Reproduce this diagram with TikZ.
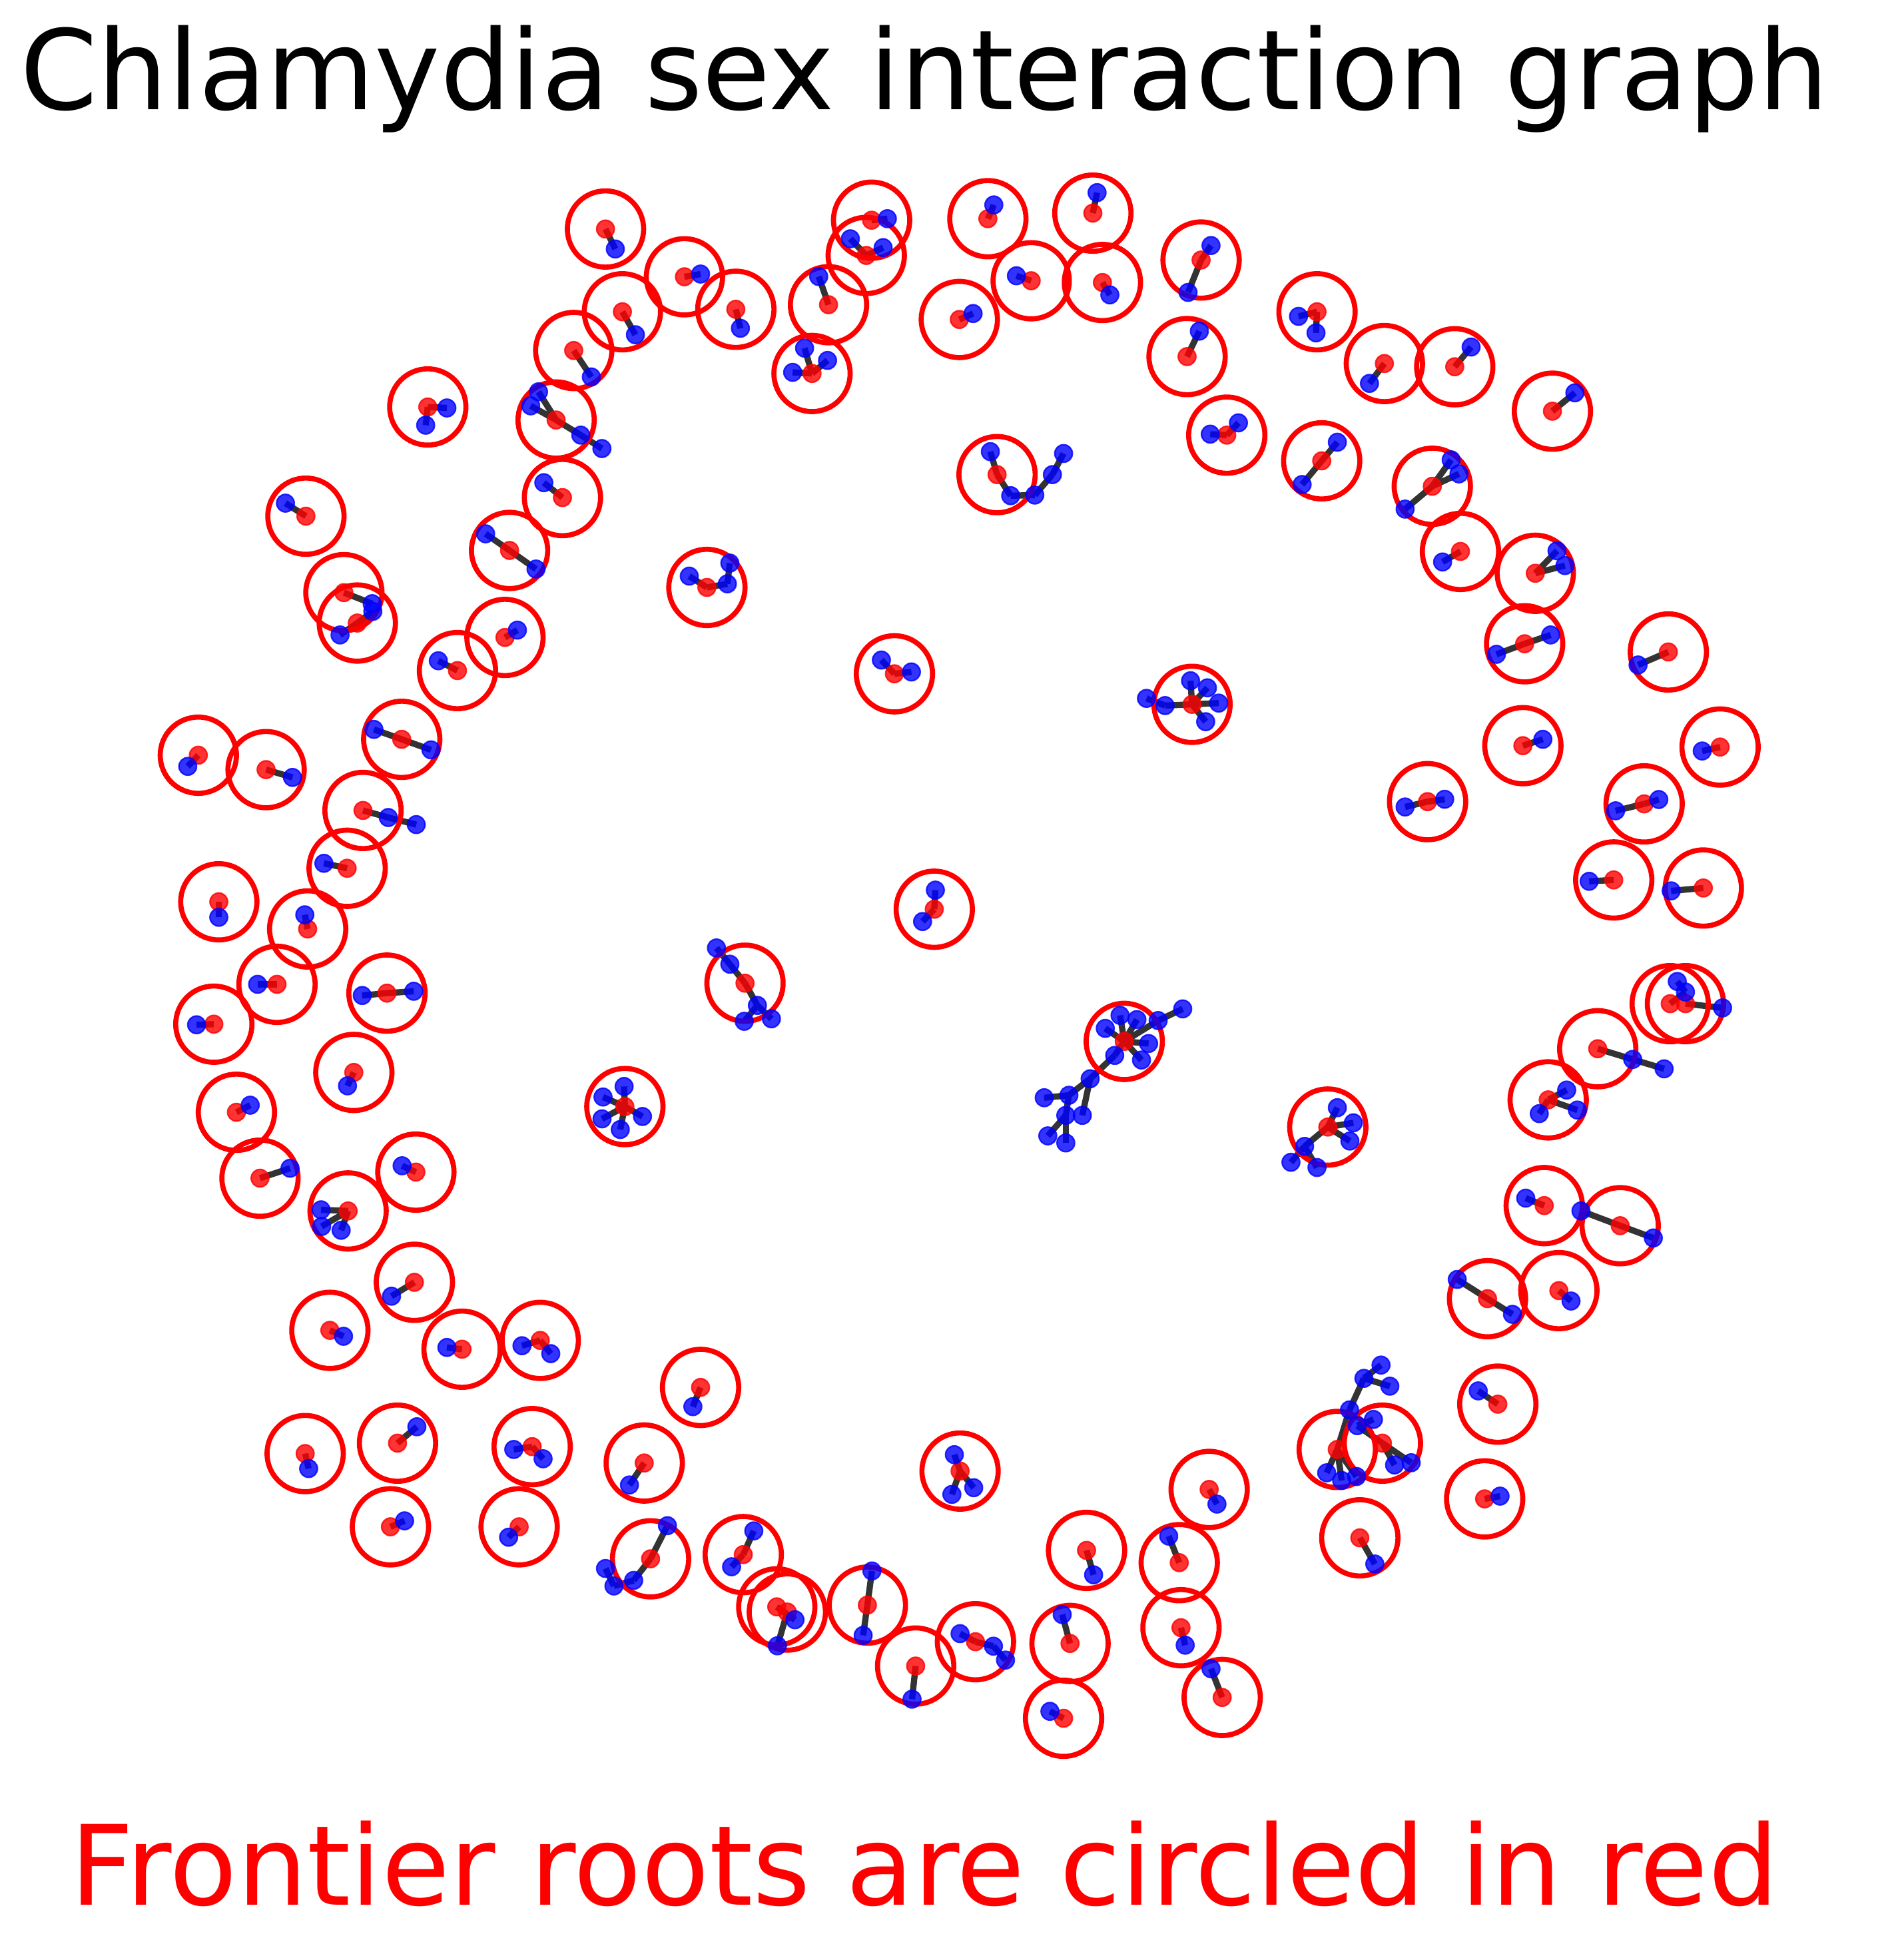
\documentclass[tikz,border=0pt]{standalone}
\usepackage{fontspec}
\setmainfont{DejaVu Sans}
\pgfdeclarelayer{bglayer}
\pgfdeclarelayer{edgelayer}
\pgfdeclarelayer{ringlayer}
\pgfsetlayers{bglayer,edgelayer,ringlayer,main}
\tikzset{
  rn/.style={circle,inner sep=0pt,minimum size=0.142cm,line width=0.012cm,fill=red,draw=red,fill opacity=0.8,draw opacity=0.8},
  bn/.style={circle,inner sep=0pt,minimum size=0.142cm,line width=0.012cm,fill=blue,draw=blue,fill opacity=0.8,draw opacity=0.8},
  ring/.style={draw=red,line width=0.041cm},
  edgeln/.style={draw=black!80,line width=0.05cm},
}
\begin{document}
\begin{tikzpicture}[x=0.01cm,y=-0.01cm]
\begin{pgfonlayer}{bglayer}
\fill[white] (0,0) rectangle (1534,1568);
\end{pgfonlayer}
\useasboundingbox (0,0) rectangle (1534,1568);
\node[font=\fontsize{25.4}{30}\selectfont,anchor=base,inner sep=0pt] (title) at (745,88) {Chlamydia sex interaction graph};
\node[font=\fontsize{25.4}{30}\selectfont,anchor=base,inner sep=0pt,text=red] (foot) at (745,1535) {Frontier roots are circled in red};
% nodes
\node[rn] (r1) at (487.9,184.5) {}; \node[bn] (b1a) at (495.8,200.6) {};
\node[rn] (r2) at (551.5,223.0) {}; \node[bn] (b2a) at (564.5,220.8) {};
\node[rn] (r3) at (592.9,249.2) {}; \node[bn] (b3a) at (596.6,264.5) {};
\node[rn] (r4) at (501.5,251.2) {}; \node[bn] (b4a) at (512.0,269.7) {};
\node[rn] (r5) at (462.3,282.4) {}; \node[bn] (b5a) at (476.5,303.7) {};
\node[rn] (r6) at (448.1,338.4) {}; \node[bn] (b6a) at (433.9,315.7) {}; \node[bn] (b6b) at (427.6,327.0) {}; \node[bn] (b6c) at (468.0,350.6) {}; \node[bn] (b6d) at (485.0,361.4) {};
\node[rn] (r7) at (453.2,400.9) {}; \node[bn] (b7a) at (438.2,388.9) {};
\node[rn] (r8) at (410.6,443.5) {}; \node[bn] (b8a) at (391.3,430.1) {}; \node[bn] (b8b) at (431.9,458.5) {};
\node[rn] (r9) at (344.7,327.9) {}; \node[bn] (b9a) at (360.1,328.7) {}; \node[bn] (b9b) at (343.0,342.6) {};
\node[rn] (r10) at (246.5,415.9) {}; \node[bn] (b10a) at (230.0,405.4) {};
\node[rn] (r11) at (277.1,477.5) {}; \node[bn] (b11a) at (299.9,486.4) {};
\node[rn] (r11x) at (287.9,502.0) {}; \node[bn] (b11b) at (300.4,492.6) {}; \node[bn] (b11c) at (274.0,511.6) {};
\node[rn] (r12) at (406.9,513.6) {}; \node[bn] (b12a) at (416.9,507.7) {};
\node[rn] (r13) at (368.6,540.3) {}; \node[bn] (b13a) at (353.2,532.4) {};
\node[rn] (r14) at (323.7,595.7) {}; \node[bn] (b14a) at (301.3,587.7) {}; \node[bn] (b14b) at (347.3,604.2) {};
\node[rn] (r15) at (292.5,653.0) {}; \node[bn] (b15a) at (312.9,658.7) {}; \node[bn] (b15b) at (335.4,664.4) {};
\node[rn] (r16) at (279.7,699.6) {}; \node[bn] (b16a) at (261.0,695.6) {};
\node[rn] (r17) at (159.8,608.5) {}; \node[bn] (b17a) at (151.3,617.5) {};
\node[rn] (r18) at (214.4,620.1) {}; \node[bn] (b18a) at (235.7,626.4) {};
\node[rn] (r19) at (176.3,726.6) {}; \node[bn] (b19a) at (176.3,739.1) {};
\node[rn] (r20) at (247.9,748.5) {}; \node[bn] (b20a) at (245.6,737.1) {};
\node[rn] (r21) at (223.2,793.1) {}; \node[bn] (b21a) at (207.6,793.1) {};
\node[rn] (r22) at (311.8,800.2) {}; \node[bn] (b22a) at (291.9,802.1) {}; \node[bn] (b22b) at (333.4,798.7) {};
\node[rn] (r23) at (172.3,825.2) {}; \node[bn] (b23a) at (158.4,825.7) {};
\node[rn] (r24) at (285.1,864.1) {}; \node[bn] (b24a) at (280.0,874.9) {};
\node[rn] (r25) at (190.5,896.2) {}; \node[bn] (b25a) at (201.6,890.5) {};
\node[rn] (r26) at (209.5,949.3) {}; \node[bn] (b26a) at (233.7,941.3) {};
\node[rn] (r27) at (335.1,944.4) {}; \node[bn] (b27a) at (324.0,939.3) {};
\node[rn] (r28) at (280.5,975.7) {}; \node[bn] (b28a) at (258.7,974.8) {}; \node[bn] (b28b) at (259.2,988.2) {}; \node[bn] (b28c) at (274.9,991.3) {};
\node[rn] (r29) at (333.9,1033.2) {}; \node[bn] (b29a) at (315.5,1044.4) {};
\node[rn] (r30) at (265.8,1071.9) {}; \node[bn] (b30a) at (276.8,1076.7) {};
\node[rn] (r31) at (372.3,1087.1) {}; \node[bn] (b31a) at (360.1,1085.7) {};
\node[rn] (r32) at (435.3,1080.0) {}; \node[bn] (b32a) at (420.6,1084.3) {}; \node[bn] (b32b) at (443.8,1090.7) {};
\node[rn] (r33) at (245.9,1171.2) {}; \node[bn] (b33a) at (248.7,1183.3) {};
\node[rn] (r34) at (320.3,1162.8) {}; \node[bn] (b34a) at (335.9,1149.6) {};
\node[rn] (r35) at (428.8,1165.6) {}; \node[bn] (b35a) at (414.0,1167.9) {}; \node[bn] (b35b) at (437.6,1175.4) {};
\node[rn] (r36) at (314.6,1230.2) {}; \node[bn] (b36a) at (326.0,1225.4) {};
\node[rn] (r37) at (418.3,1230.2) {}; \node[bn] (b37a) at (409.8,1238.6) {};
\node[rn] (r38) at (519.1,1178.8) {}; \node[bn] (b38a) at (507.2,1196.5) {};
\node[rn] (r39) at (564.5,1117.9) {}; \node[bn] (b39a) at (558.3,1133.4) {};
\node[rn] (r40) at (524.2,1256.0) {}; \node[bn] (b40a) at (537.8,1229.3) {}; \node[bn] (b40b) at (510.6,1273.4) {}; \node[bn] (b40c) at (494.7,1277.9) {}; \node[bn] (b40d) at (487.9,1263.8) {};
\node[rn] (r41) at (598.9,1252.6) {}; \node[bn] (b41a) at (607.4,1233.5) {}; \node[bn] (b41b) at (589.5,1262.4) {};
\node[rn] (r42) at (625.9,1294.7) {}; \node[rn] (r42x) at (634.4,1298.9) {}; \node[bn] (b42a) at (640.6,1305.1) {}; \node[bn] (b42b) at (626.4,1326.1) {};
\node[rn] (r43) at (698.9,1293.3) {}; \node[bn] (b43a) at (702.6,1265.8) {}; \node[bn] (b43b) at (695.5,1317.7) {};
\node[rn] (r44) at (737.8,1342.4) {}; \node[bn] (b44a) at (734.9,1369.1) {};
\node[rn] (r45) at (786.0,1322.8) {}; \node[bn] (b45a) at (773.6,1316.3) {}; \node[bn] (b45b) at (800.5,1326.4) {}; \node[bn] (b45c) at (810.2,1337.6) {};
\node[rn] (r46) at (773.6,1185.3) {}; \node[bn] (b46a) at (769.0,1172.1) {}; \node[bn] (b46b) at (767.0,1204.1) {}; \node[bn] (b46c) at (784.6,1198.7) {};
\node[rn] (r47) at (862.2,1324.2) {}; \node[bn] (b47a) at (855.9,1300.9) {};
\node[rn] (r48) at (857.0,1384.5) {}; \node[bn] (b48a) at (846.0,1378.9) {};
\node[rn] (r49) at (875.5,1249.2) {}; \node[bn] (b49a) at (881.2,1268.9) {};
\node[rn] (r50) at (950.2,1259.1) {}; \node[bn] (b50a) at (941.7,1237.7) {};
\node[rn] (r51) at (951.6,1311.5) {}; \node[bn] (b51a) at (955.0,1325.6) {};
\node[rn] (r52) at (984.8,1367.7) {}; \node[bn] (b52a) at (975.8,1344.6) {};
\node[rn] (r53) at (974.3,1200.1) {}; \node[bn] (b53a) at (980.6,1211.9) {};
\node[rn] (r54) at (1095.7,1239.1) {}; \node[bn] (b54a) at (1107.8,1260.2) {};
\node[rn] (r55) at (1077.5,1167.9) {}; \node[rn] (r55x) at (1113.9,1162.8) {};
\node[bn] (b55a) at (1112.8,1099.9) {}; \node[bn] (b55b) at (1099.0,1110.6) {}; \node[bn] (b55c) at (1119.9,1116.9) {}; \node[bn] (b55d) at (1087.4,1136.0) {};
\node[bn] (b55e) at (1106.7,1143.7) {}; \node[bn] (b55f) at (1093.6,1148.7) {};
\node[bn] (b55g) at (1069.0,1186.7) {}; \node[bn] (b55h) at (1081.1,1192.9) {}; \node[bn] (b55i) at (1093.1,1189.7) {};
\node[bn] (b55j) at (1123.7,1180.4) {}; \node[bn] (b55k) at (1137.1,1178.6) {};
\node[rn] (r56) at (1196.3,1207.7) {}; \node[bn] (b56a) at (1208.7,1205.5) {};
\node[rn] (r57) at (1206.9,1131.4) {}; \node[bn] (b57a) at (1191.1,1120.7) {};
\node[rn] (r58) at (1198.6,1046.4) {}; \node[bn] (b58a) at (1174.2,1030.9) {}; \node[bn] (b58b) at (1218.7,1059.0) {};
\node[rn] (r59) at (1256.1,1039.9) {}; \node[bn] (b59a) at (1265.9,1048.3) {};
\node[rn] (r60) at (1305.5,987.6) {}; \node[bn] (b60a) at (1273.9,975.7) {}; \node[bn] (b60b) at (1332.2,997.5) {};
\node[rn] (r61) at (1244.3,971.4) {}; \node[bn] (b61a) at (1229.4,965.4) {};
\node[rn] (r62) at (1247.5,886.2) {}; \node[bn] (b62a) at (1262.4,878.3) {}; \node[bn] (b62b) at (1271.0,894.4) {}; \node[bn] (b62c) at (1240.3,897.3) {};
\node[rn] (r63) at (1287.4,845.0) {}; \node[bn] (b63a) at (1315.6,853.6) {}; \node[bn] (b63b) at (1340.9,861.2) {};
\node[rn] (r64) at (1345.8,808.7) {}; \node[rn] (r64x) at (1358.1,808.7) {}; \node[bn] (b64a) at (1351.5,790.8) {}; \node[bn] (b64b) at (1358.1,799.3) {}; \node[bn] (b64c) at (1388.0,812.1) {};
\node[rn] (r65) at (1372.5,715.5) {}; \node[bn] (b65a) at (1346.6,717.8) {};
\node[rn] (r66) at (1300.3,709.0) {}; \node[bn] (b66a) at (1280.5,710.1) {};
\node[rn] (r67) at (1324.8,647.7) {}; \node[bn] (b67a) at (1301.8,653.3) {}; \node[bn] (b67b) at (1336.6,644.2) {};
\node[rn] (r68) at (1386.0,601.9) {}; \node[bn] (b68a) at (1371.6,605.1) {};
\node[rn] (r69) at (1344.3,525.3) {}; \node[bn] (b69a) at (1319.9,535.8) {};
\node[rn] (r70) at (1227.1,600.8) {}; \node[bn] (b70a) at (1243.2,595.7) {};
\node[rn] (r71) at (1150.3,645.9) {}; \node[bn] (b71a) at (1132.2,650.2) {}; \node[bn] (b71b) at (1164.1,644.0) {};
\node[rn] (r72) at (1228.5,518.7) {}; \node[bn] (b72a) at (1205.8,527.2) {}; \node[bn] (b72b) at (1249.5,511.6) {};
\node[rn] (r73) at (1237.1,461.9) {}; \node[bn] (b73a) at (1254.6,443.8) {}; \node[bn] (b73b) at (1261.0,455.7) {};
\node[rn] (r74) at (1176.8,444.3) {}; \node[bn] (b74a) at (1162.4,452.8) {};
\node[rn] (r75) at (1154.1,391.8) {}; \node[bn] (b75a) at (1169.3,370.5) {}; \node[bn] (b75b) at (1175.6,381.8) {}; \node[bn] (b75c) at (1132.2,410.2) {};
\node[rn] (r76) at (1250.9,331.3) {}; \node[bn] (b76a) at (1269.0,316.5) {};
\node[rn] (r77) at (1172.2,295.5) {}; \node[bn] (b77a) at (1185.4,279.6) {};
\node[rn] (r78) at (1115.5,292.9) {}; \node[bn] (b78a) at (1103.5,308.9) {};
\node[rn] (r79) at (1061.2,251.2) {}; \node[bn] (b79a) at (1046.3,254.9) {}; \node[bn] (b79b) at (1060.4,268.2) {};
\node[rn] (r80) at (1065.0,371.3) {}; \node[bn] (b80a) at (1077.6,356.3) {}; \node[bn] (b80b) at (1049.2,390.4) {};
\node[rn] (r81) at (988.5,350.6) {}; \node[bn] (b81a) at (975.2,349.8) {}; \node[bn] (b81b) at (997.9,340.7) {};
\node[rn] (r82) at (967.8,209.5) {}; \node[bn] (b82a) at (975.8,197.8) {}; \node[bn] (b82b) at (957.3,235.6) {};
\node[rn] (r83) at (956.5,287.3) {}; \node[bn] (b83a) at (966.4,266.8) {};
\node[rn] (r84) at (880.6,171.7) {}; \node[bn] (b84a) at (884.0,155.2) {};
\node[rn] (r85) at (888.3,227.6) {}; \node[bn] (b85a) at (894.3,237.6) {};
\node[rn] (r86) at (830.9,226.2) {}; \node[bn] (b86a) at (819.0,222.2) {};
\node[rn] (r87) at (796.0,176.2) {}; \node[bn] (b87a) at (800.8,165.1) {};
\node[rn] (r88) at (773.0,257.4) {}; \node[bn] (b88a) at (784.1,252.6) {};
\node[rn] (r89) at (702.3,177.4) {}; \node[bn] (b89a) at (715.0,176.2) {};
\node[rn] (r89x) at (698.0,205.8) {}; \node[bn] (b89b) at (685.2,192.4) {}; \node[bn] (b89c) at (711.6,199.5) {};
\node[rn] (r90) at (667.6,245.5) {}; \node[bn] (b90a) at (659.7,222.8) {};
\node[rn] (r91) at (654.3,300.9) {}; \node[bn] (b91a) at (648.3,280.5) {}; \node[bn] (b91b) at (638.7,300.0) {}; \node[bn] (b91c) at (666.8,290.4) {};
\node[rn] (r92) at (803.4,382.4) {}; \node[bn] (b92a) at (798.0,363.9) {}; \node[bn] (b92b) at (814.4,399.4) {}; \node[bn] (b92c) at (833.8,398.9) {}; \node[bn] (b92d) at (848.0,382.4) {}; \node[bn] (b92e) at (857.0,365.4) {};
\node[rn] (r93) at (569.6,473.3) {}; \node[bn] (b93a) at (555.4,464.2) {}; \node[bn] (b93b) at (586.1,470.4) {}; \node[bn] (b93c) at (588.1,453.7) {};
\node[rn] (r94) at (720.7,542.9) {}; \node[bn] (b94a) at (710.2,531.8) {}; \node[bn] (b94b) at (734.4,541.4) {};
\node[rn] (r95) at (960.5,567.5) {}; \node[bn] (b95a) at (923.8,562.7) {}; \node[bn] (b95b) at (938.8,568.5) {}; \node[bn] (b95c) at (959.3,548.5) {}; \node[bn] (b95d) at (972.9,554.2) {}; \node[bn] (b95e) at (982.0,566.5) {}; \node[bn] (b95f) at (971.5,581.5) {};
\node[rn] (r96) at (752.8,732.6) {}; \node[bn] (b96a) at (753.7,717.2) {}; \node[bn] (b96b) at (743.4,742.5) {};
\node[rn] (r97) at (600.3,792.2) {}; \node[bn] (b97a) at (577.3,763.8) {}; \node[bn] (b97b) at (588.1,776.9) {}; \node[bn] (b97c) at (610.3,810.1) {}; \node[bn] (b97d) at (599.7,822.9) {}; \node[bn] (b97e) at (621.6,820.9) {};
\node[rn] (r98) at (503.5,891.6) {}; \node[bn] (b98a) at (502.9,875.4) {}; \node[bn] (b98b) at (485.9,883.9) {}; \node[bn] (b98c) at (485.1,901.5) {}; \node[bn] (b98d) at (499.8,910.1) {}; \node[bn] (b98e) at (517.7,899.6) {};
\node[rn] (r99) at (905.9,839.1) {};
\node[bn] (b99a) at (890.6,828.6) {}; \node[bn] (b99b) at (902.5,818.1) {}; \node[bn] (b99c) at (916.1,821.5) {}; \node[bn] (b99d) at (933.2,822.3) {}; \node[bn] (b99e) at (953.0,812.9) {};
\node[bn] (b99f) at (925.5,840.8) {}; \node[bn] (b99g) at (919.8,854.1) {}; \node[bn] (b99h) at (898.2,850.4) {}; \node[bn] (b99i) at (878.4,869.2) {}; \node[bn] (b99j) at (861.3,882.5) {};
\node[bn] (b99k) at (841.4,884.5) {}; \node[bn] (b99l) at (872.1,898.7) {}; \node[bn] (b99m) at (858.8,898.7) {}; \node[bn] (b99n) at (844.3,915.2) {}; \node[bn] (b99o) at (858.8,920.9) {};
\node[rn] (r100) at (1069.9,908.1) {}; \node[bn] (b100a) at (1077.6,892.5) {}; \node[bn] (b100b) at (1090.5,904.7) {}; \node[bn] (b100c) at (1087.7,919.4) {}; \node[bn] (b100d) at (1051.2,923.7) {}; \node[bn] (b100e) at (1040.2,936.5) {}; \node[bn] (b100f) at (1061.2,940.7) {};
% edges
\begin{pgfonlayer}{edgelayer}
\foreach \a/\b in {r1/b1a,r2/b2a,r3/b3a,r4/b4a,r5/b5a,r6/b6a,r6/b6b,r6/b6c,b6c/b6d,r7/b7a,r8/b8a,r8/b8b,r9/b9a,r9/b9b,r10/b10a,
  r11/b11a,r11x/b11b,r11x/b11c,r12/b12a,r13/b13a,r14/b14a,r14/b14b,r15/b15a,b15a/b15b,r16/b16a,r17/b17a,r18/b18a,r19/b19a,r20/b20a,
  r21/b21a,r22/b22a,r22/b22b,r23/b23a,r24/b24a,r25/b25a,r26/b26a,r27/b27a,r28/b28a,r28/b28b,r28/b28c,r29/b29a,r30/b30a,
  r31/b31a,r32/b32a,r32/b32b,r33/b33a,r34/b34a,r35/b35a,r35/b35b,r36/b36a,r37/b37a,r38/b38a,r39/b39a,
  r40/b40a,r40/b40b,b40b/b40c,b40c/b40d,r41/b41a,r41/b41b,r42/b42a,r42x/b42b,r43/b43a,r43/b43b,r44/b44a,
  r45/b45a,r45/b45b,b45b/b45c,r46/b46a,r46/b46b,r46/b46c,r47/b47a,r48/b48a,r49/b49a,r50/b50a,r51/b51a,r52/b52a,r53/b53a,r54/b54a,
  r55/b55d,b55d/b55b,b55b/b55a,b55b/b55c,r55/b55g,r55/b55h,r55/b55i,r55x/b55f,b55f/b55e,r55x/b55j,r55x/b55k,
  r56/b56a,r57/b57a,r58/b58a,r58/b58b,r59/b59a,r60/b60a,r60/b60b,r61/b61a,r62/b62a,r62/b62b,r62/b62c,r63/b63a,b63a/b63b,
  r64/b64b,b64b/b64a,r64x/b64c,r65/b65a,r66/b66a,r67/b67a,r67/b67b,r68/b68a,r69/b69a,r70/b70a,r71/b71a,r71/b71b,r72/b72a,r72/b72b,
  r73/b73a,r73/b73b,r74/b74a,r75/b75a,r75/b75b,r75/b75c,r76/b76a,r77/b77a,r78/b78a,r79/b79a,r79/b79b,r80/b80a,r80/b80b,
  r81/b81a,r81/b81b,r82/b82a,r82/b82b,r83/b83a,r84/b84a,r85/b85a,r86/b86a,r87/b87a,r88/b88a,r89/b89a,r89x/b89b,r89x/b89c,
  r90/b90a,r91/b91a,r91/b91b,r91/b91c,r92/b92a,r92/b92b,b92b/b92c,b92c/b92d,b92d/b92e,r93/b93a,r93/b93b,b93b/b93c,r94/b94a,r94/b94b,
  r95/b95b,b95b/b95a,r95/b95c,r95/b95d,r95/b95e,r95/b95f,r96/b96a,r96/b96b,
  r97/b97b,b97b/b97a,r97/b97c,b97c/b97d,b97c/b97e,r98/b98a,r98/b98b,r98/b98c,r98/b98d,r98/b98e,
  r99/b99a,r99/b99b,r99/b99c,r99/b99d,b99d/b99e,r99/b99f,r99/b99g,r99/b99h,b99h/b99i,b99i/b99j,b99j/b99k,b99i/b99l,b99j/b99m,b99m/b99n,b99m/b99o,
  r100/b100a,r100/b100b,r100/b100c,r100/b100d,b100d/b100e,b100d/b100f}
  \draw[edgeln] (\a.center) -- (\b.center);
\end{pgfonlayer}
% rings around roots
\begin{pgfonlayer}{ringlayer}
\foreach \n in {r1,r2,r3,r4,r5,r6,r7,r8,r9,r10,r11,r11x,r12,r13,r14,r15,r16,r17,r18,r19,r20,r21,r22,r23,r24,r25,r26,r27,r28,r29,r30,
  r31,r32,r33,r34,r35,r36,r37,r38,r39,r40,r41,r42,r42x,r43,r44,r45,r46,r47,r48,r49,r50,r51,r52,r53,r54,r55,r55x,r56,r57,r58,r59,r60,
  r61,r62,r63,r64,r64x,r65,r66,r67,r68,r69,r70,r71,r72,r73,r74,r75,r76,r77,r78,r79,r80,r81,r82,r83,r84,r85,r86,r87,r88,r89,r89x,r90,
  r91,r92,r93,r94,r95,r96,r97,r98,r99,r100}
  \draw[ring] (\n.center) circle[radius=0.307cm];
\end{pgfonlayer}
\end{tikzpicture}
\end{document}
